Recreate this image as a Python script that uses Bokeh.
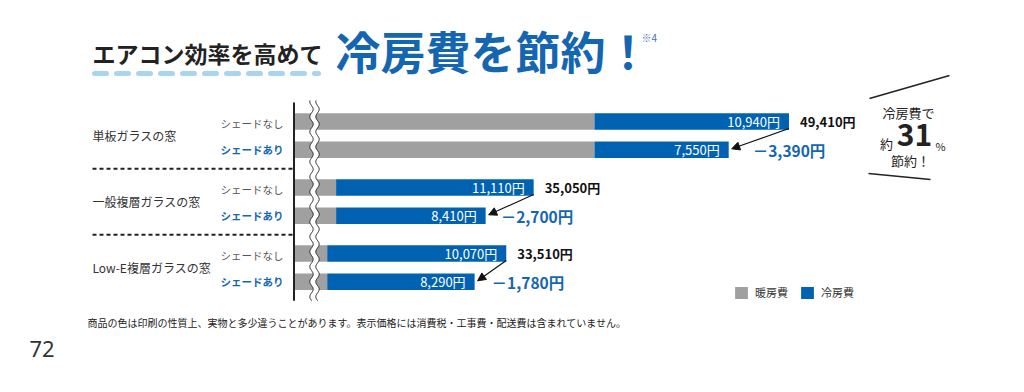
import numpy as np
from bokeh.plotting import figure
from bokeh.models import Range1d, ColumnDataSource, Arrow, NormalHead, Legend, LegendItem
from bokeh.core.properties import value
from bokeh.embed import file_html
from bokeh.resources import INLINE

# ---------------- data ----------------
groups = ["単板ガラスの窓", "一般複層ガラスの窓", "Low-E複層ガラスの窓"]
shades = ["シェードなし", "シェードあり"]
heating = [38470, 38470, 23940, 23940, 23440, 23440]   # 暖房費 (yen)
cooling = [10940, 7550, 11110, 8410, 10070, 8290]      # 冷房費 (yen)
legend_labels = ["暖房費", "冷房費"]
title_lead = "エアコン効率を高めて"
title_main = "冷房費を節約！"
title_note = "※4"
callout_top = "冷房費で"
callout_pre = "約"
callout_unit = "%"
callout_bottom = "節約！"
footnote = "商品の色は印刷の性質上、実物と多少違うことがあります。表示価格には消費税・工事費・配送費は含まれていません。"
page_no = "72"

# ---------------- style / layout ----------------
FONT = "Noto Sans CJK JP"
GRAY = "#a0a0a0"
BLUE = "#0062b1"
TBLUE = "#1566b0"
W, H = 1008, 376
ORG = 0                 # page offset of the canvas
AXIS_X = 294            # page px where the (broken) axis starts
AXIS_START = 21600      # yen value at the axis break
YEN_PER_PX = 56.24
ROW_TOP, ROW_STEP, GROUP_STEP = 121, 28.3, 66
BAR_H = 16.5

totals = [h + c for h, c in zip(heating, cooling)]
ypos = [ROW_TOP + g * GROUP_STEP + r * ROW_STEP for g in range(len(groups)) for r in range(len(shades))]

p = figure(width=W, height=H,
           x_range=Range1d(AXIS_START - (AXIS_X - ORG) * YEN_PER_PX, AXIS_START + (ORG + W - AXIS_X) * YEN_PER_PX),
           y_range=Range1d(ORG + H, ORG),
           x_axis_location=None, y_axis_location=None,
           toolbar_location=None, output_backend="svg", min_border=0,
           outline_line_color=None, background_fill_color="white", border_fill_color="white")
p.extra_x_ranges = {"px": Range1d(ORG, ORG + W)}
p.grid.grid_line_color = None

src = ColumnDataSource(dict(y=ypos, h=heating, t=totals, axis=[AXIS_START] * len(ypos),
                            lab=[f"{c:,}円" for c in cooling]))
r_heat = p.hbar(y="y", left="axis", right="h", height=BAR_H, fill_color=GRAY, line_color=None, source=src)
r_cool = p.hbar(y="y", left="h", right="t", height=BAR_H, fill_color=BLUE, line_color=None, source=src)

# axis line
p.segment(x0=[AXIS_X - 0.5], x1=[AXIS_X - 0.5], y0=[ypos[0] - 19], y1=[ypos[-1] + 19],
          line_color="#222", line_width=2, x_range_name="px")

# wavy break
ys = np.linspace(ypos[0] - 21, ypos[-1] + 19, 400)
wave = 1.7 * np.sin(2 * np.pi * ys / 15.0)
xa = 311 + wave
xb = 317 + wave
p.patch(x=np.concatenate([xa, xb[::-1]]), y=np.concatenate([ys, ys[::-1]]),
        fill_color="white", line_color=None, x_range_name="px")
p.line(x=xa, y=ys, line_color="#222", line_width=1, x_range_name="px")
p.line(x=xb, y=ys, line_color="#222", line_width=1, x_range_name="px")

# values inside blue bars
p.text(x="t", y="y", text="lab", source=src, x_offset=-9,
       text_align="right", text_baseline="middle", text_color="white",
       text_font=value(FONT), text_font_size="13px")

# totals (without shade) and differences
top_idx = list(range(0, len(ypos), 2))
low_idx = list(range(1, len(ypos), 2))
p.text(x=[totals[i] for i in top_idx], y=[ypos[i] for i in top_idx],
       text=[f"{totals[i]:,}円" for i in top_idx], x_offset=11,
       text_align="left", text_baseline="middle", text_color="#111",
       text_font=value(FONT), text_font_size="13px", text_font_style="bold")
DIFF_OFFSETS = [24, 15, 17]
for k, (i, j) in enumerate(zip(top_idx, low_idx)):
    d = cooling[j] - cooling[i]
    p.text(x=[totals[j]], y=[ypos[j] + 0.5], text=[f"－{abs(d):,}円"], x_offset=DIFF_OFFSETS[k],
           text_align="left", text_baseline="middle", text_color=TBLUE,
           text_font=value(FONT), text_font_size="15.5px", text_font_style="bold")
    p.add_layout(Arrow(end=NormalHead(size=8, fill_color="#111", line_color="#111"),
                       x_start=totals[i], y_start=ypos[i] + 7,
                       x_end=totals[j] + 3 * YEN_PER_PX, y_end=ypos[j] - 1,
                       line_color="#111", line_width=1.2))

# left labels
gy = [(ypos[2 * g] + ypos[2 * g + 1]) / 2 for g in range(len(groups))]
p.text(x=[92] * len(groups), y=gy, text=groups, x_range_name="px",
       text_align="left", text_baseline="middle", text_color="#333",
       text_font=value(FONT), text_font_size="12px")
p.text(x=[283] * len(top_idx), y=[ypos[i] + 2 for i in top_idx], text=[shades[0]] * len(top_idx),
       x_range_name="px", text_align="right", text_baseline="middle", text_color="#555",
       text_font=value(FONT), text_font_size="10.5px")
p.text(x=[283] * len(low_idx), y=[ypos[i] for i in low_idx], text=[shades[1]] * len(low_idx),
       x_range_name="px", text_align="right", text_baseline="middle", text_color=TBLUE,
       text_font=value(FONT), text_font_size="10.5px", text_font_style="bold")
sep_y = [(ypos[2 * g + 1] + ypos[2 * g + 2]) / 2 for g in range(len(groups) - 1)]
p.segment(x0=[92] * len(sep_y), x1=[AXIS_X - 1] * len(sep_y), y0=sep_y, y1=sep_y,
          line_color="#222", line_width=2, line_dash="4 3", x_range_name="px")

# title
p.text(x=[92], y=[52], text=[title_lead], x_range_name="px", text_align="left",
       text_baseline="middle", text_color="#222", text_font=value(FONT),
       text_font_size="23px", text_font_style="bold")
p.segment(x0=[94], x1=[318], y0=[73], y1=[73], x_range_name="px",
          line_color="#a9d4f0", line_width=5, line_dash="12 10", line_cap="round")
p.text(x=[335], y=[50], text=[title_main], x_range_name="px", text_align="left",
       text_baseline="middle", text_color=TBLUE, text_font=value(FONT),
       text_font_size="45px", text_font_style="bold")
p.text(x=[641], y=[37], text=[title_note], x_range_name="px", text_align="left",
       text_baseline="middle", text_color="#4a72a8", text_font=value(FONT), text_font_size="10px")

# callout
pct = round(100 * (cooling[0] - cooling[1]) / cooling[0])
p.line(x=[869, 949], y=[98, 75], x_range_name="px", line_color="#222", line_width=1.5)
p.line(x=[868, 930], y=[173, 179], x_range_name="px", line_color="#222", line_width=1.5)
p.text(x=[908], y=[112], text=[callout_top], x_range_name="px", text_align="center",
       text_baseline="middle", text_color="#222", text_font=value(FONT), text_font_size="13px")
p.text(x=[886], y=[143], text=[callout_pre], x_range_name="px", text_align="center",
       text_baseline="middle", text_color="#222", text_font=value(FONT), text_font_size="13px")
p.text(x=[914], y=[134], text=[str(pct)], x_range_name="px", text_align="center",
       text_baseline="middle", text_color="#222", text_font=value(FONT),
       text_font_size="30px", text_font_style="bold")
p.text(x=[940], y=[145], text=[callout_unit], x_range_name="px", text_align="center",
       text_baseline="middle", text_color="#222", text_font=value(FONT), text_font_size="11px")
p.text(x=[910], y=[160], text=[callout_bottom], x_range_name="px", text_align="center",
       text_baseline="middle", text_color="#222", text_font=value(FONT), text_font_size="13px")

# legend
legend = Legend(items=[LegendItem(label=legend_labels[0], renderers=[r_heat]),
                       LegendItem(label=legend_labels[1], renderers=[r_cool])],
                orientation="horizontal", location=(733 - ORG, ORG + H - 300), padding=0, margin=0,
                spacing=11, glyph_width=16, glyph_height=15, label_height=15, label_standoff=6,
                label_text_font=FONT, label_text_font_size="11px", label_text_color="#333",
                border_line_color=None, background_fill_alpha=0)
p.add_layout(legend)

# footnote and page number
p.text(x=[87], y=[322], text=[footnote], x_range_name="px", text_align="left",
       text_baseline="middle", text_color="#222", text_font=value(FONT), text_font_size="10px")
p.text(x=[29], y=[348], text=[page_no], x_range_name="px", text_align="left",
       text_baseline="middle", text_color="#333", text_font=value("Noto Sans"), text_font_size="22px")

open("out.html", "w").write(file_html(p, INLINE))
